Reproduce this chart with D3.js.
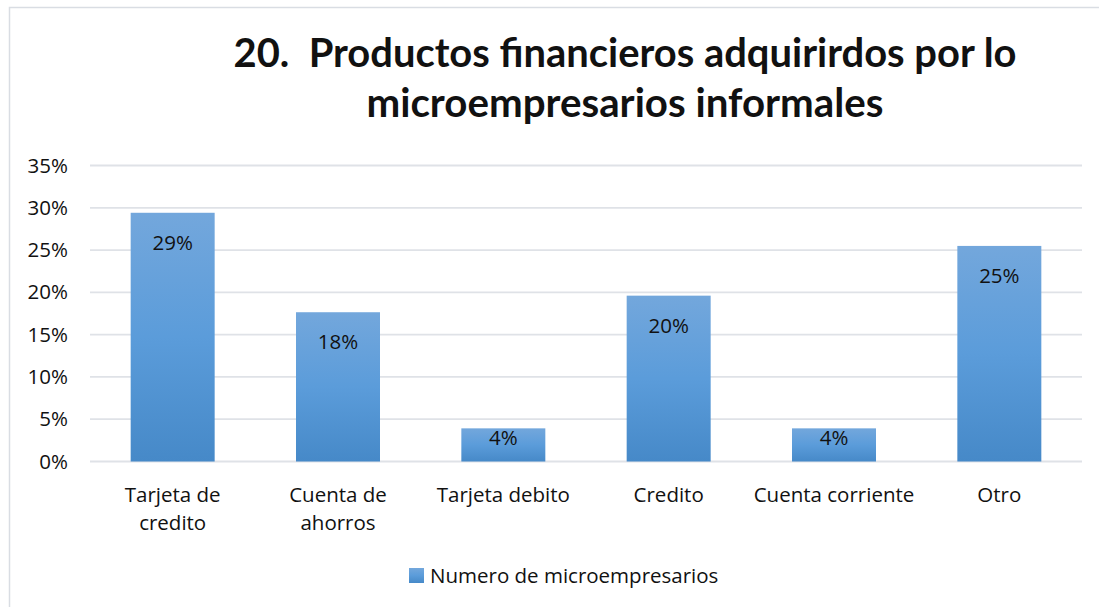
<!DOCTYPE html>
<html>
<head>
<meta charset="utf-8">
<script src="https://cdn.jsdelivr.net/npm/d3@7"></script>
<style>
  html, body { margin: 0; padding: 0; background: #fff; }
  svg { display: block; }
  text { font-family: "Open Sans", "Noto Sans", sans-serif; fill: #111; }
</style>
</head>
<body>
<script>
const categories = ["Tarjeta de credito", "Cuenta de ahorros", "Tarjeta debito", "Credito", "Cuenta corriente", "Otro"];
const values = [0.2941, 0.1765, 0.0392, 0.1961, 0.0392, 0.2549];
const valueLabels = ["29%", "18%", "4%", "20%", "4%", "25%"];
const yTicks = [0, 0.05, 0.10, 0.15, 0.20, 0.25, 0.30, 0.35];
const titleLines = ["20.  Productos financieros adquirirdos por lo", "microempresarios informales"];
const seriesName = "Numero de microempresarios";

const W = 1099, H = 607;
const FONT = "'Open Sans', 'Noto Sans', sans-serif";
const FS = "20.5px";
const svg = d3.select("body").append("svg").attr("width", W).attr("height", H);

const defs = svg.append("defs");
const grad = defs.append("linearGradient").attr("id", "barGrad")
  .attr("x1", 0).attr("y1", 0).attr("x2", 0).attr("y2", 1);
grad.append("stop").attr("offset", "0%").attr("stop-color", "#73a7dc");
grad.append("stop").attr("offset", "50%").attr("stop-color", "#5b9cda");
grad.append("stop").attr("offset", "100%").attr("stop-color", "#4689c8");

// chart frame
svg.append("rect").attr("x", 9.5).attr("y", 7.5).attr("width", W + 20).attr("height", H + 20)
  .attr("fill", "none").attr("stroke", "#d9dde3").attr("stroke-width", 1.5);

const x = d3.scaleBand().domain(categories).range([90, 1082]).paddingInner(0.492).paddingOuter(0.246);
const y = d3.scaleLinear().domain([0, 0.35]).range([461.5, 165.5]);

// gridlines
svg.append("g").selectAll("line").data(yTicks).join("line")
  .attr("x1", 90).attr("x2", 1082)
  .attr("y1", d => y(d)).attr("y2", d => y(d))
  .attr("stroke", "#dfe2e7").attr("stroke-width", 1.8);

// y axis labels
const yAxis = d3.axisLeft(y).tickValues(yTicks).tickFormat(d3.format(".0%")).tickSize(0).tickPadding(0);
const gy = svg.append("g").attr("transform", "translate(68,0)").call(yAxis);
gy.select(".domain").remove();
gy.selectAll("text").style("font-family", FONT).style("font-size", FS).attr("fill", "#111");

// bars
svg.append("g").selectAll("rect").data(values).join("rect")
  .attr("x", (d, i) => x(categories[i]))
  .attr("y", d => y(d))
  .attr("width", x.bandwidth())
  .attr("height", d => y(0) - y(d))
  .attr("fill", "url(#barGrad)");

// value labels
svg.append("g").selectAll("text").data(values).join("text")
  .attr("x", (d, i) => x(categories[i]) + x.bandwidth() / 2)
  .attr("y", d => y(d) + Math.min(37, (y(0) - y(d)) * 0.5 + 0.5))
  .attr("text-anchor", "middle")
  .style("font-size", FS)
  .text((d, i) => valueLabels[i]);

// x axis labels with wrapping
const gx = svg.append("g");
categories.forEach(c => {
  const cx = x(c) + x.bandwidth() / 2;
  const t = gx.append("text")
    .attr("x", cx)
    .attr("y", 502)
    .attr("text-anchor", "middle")
    .style("font-size", FS);
  const words = c.split(" ");
  const maxW = x.step();
  let line = [];
  let tspan = t.append("tspan").attr("x", cx).attr("dy", 0);
  words.forEach(w => {
    line.push(w);
    tspan.text(line.join(" "));
    if (tspan.node().getComputedTextLength() > maxW && line.length > 1) {
      line.pop();
      tspan.text(line.join(" "));
      line = [w];
      tspan = t.append("tspan").attr("x", cx).attr("dy", 28).text(w);
    }
  });
});

// title
const titleWidths = [783, 517];
const titleBase = [67, 117];
titleLines.forEach((l, i) => {
  svg.append("text")
    .attr("x", 625).attr("y", titleBase[i])
    .attr("text-anchor", "middle")
    .attr("textLength", titleWidths[i])
    .attr("lengthAdjust", "spacingAndGlyphs")
    .style("white-space", "pre")
    .style("font-family", "Lato, 'Open Sans', sans-serif")
    .style("font-size", "40px").style("font-weight", "bold")
    .text(l);
});

// legend
const lg = svg.append("g");
lg.append("rect").attr("x", 409).attr("y", 568).attr("width", 15).attr("height", 15).attr("fill", "url(#barGrad)");
lg.append("text").attr("x", 430).attr("y", 583).style("font-size", FS).text(seriesName);
</script>
</body>
</html>
